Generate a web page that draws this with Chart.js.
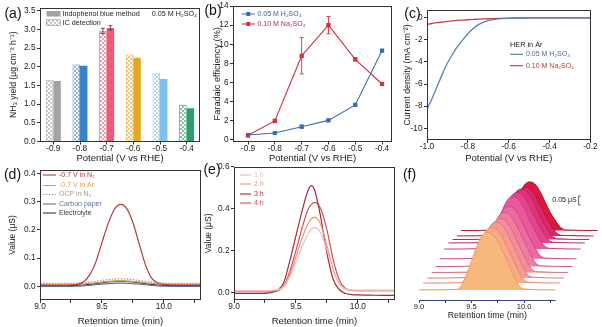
<!DOCTYPE html>
<html><head><meta charset="utf-8">
<script src="https://cdn.jsdelivr.net/npm/chart.js@4.4.1/dist/chart.umd.min.js"></script>
<style>
html,body{margin:0;padding:0;background:#fff;}
#wrap{position:relative;width:602px;height:327px;overflow:hidden;background:#fff;}
#wrap canvas{position:absolute;left:0;top:0;}
</style></head><body>
<div id="wrap">
<canvas id="ca" width="602" height="327"></canvas>
<canvas id="cb" width="602" height="327"></canvas>
<canvas id="cc" width="602" height="327"></canvas>
<canvas id="cd" width="602" height="327"></canvas>
<canvas id="ce" width="602" height="327"></canvas>
<canvas id="cf" width="602" height="327"></canvas>
</div>
<script>
// ---------------- DATA ----------------
// (a) NH3 yield
const potentialsA = ['-0.9','-0.8','-0.7','-0.6','-0.5','-0.4'];
const yieldIndophenol = [1.62, 2.03, 3.04, 2.24, 1.67, 0.89];
const yieldIC = [1.65, 2.06, 2.96, 2.33, 1.84, 0.98];
const errIndophenol = [0, 0, 0.06, 0, 0, 0];
const errIC = [0, 0, 0.07, 0, 0, 0];
const ticksAy = [0, 0.5, 1, 1.5, 2, 2.5, 3, 3.5];

// (b) Faradaic efficiency
const potentialsB = [-0.9, -0.8, -0.7, -0.6, -0.5, -0.4];
const feH2SO4 = [0.52, 0.73, 1.39, 2.05, 3.66, 9.34];
const feNa2SO4 = [0.49, 1.99, 8.8, 12.0, 8.43, 5.85];
const errFeH2SO4 = [0.05, 0.05, 0.15, 0.1, 0.1, 0.1];
const errFeNa2SO4 = [0.1, 0.1, 1.9, 0.9, 0.15, 0.15];
const ticksBx = [-0.9, -0.8, -0.7, -0.6, -0.5, -0.4];
const ticksBy = [0, 2, 4, 6, 8, 10, 12, 14];

// (c) HER polarization
const potentialC = [-1.0,-0.975,-0.95,-0.925,-0.9,-0.875,-0.85,-0.825,-0.8,-0.775,-0.75,-0.725,-0.7,-0.675,-0.65,-0.6,-0.5,-0.4,-0.3,-0.2];
const jH2SO4 = [-8.3,-7.3,-6.2,-5.1,-4.1,-3.3,-2.6,-2.0,-1.45,-1.0,-0.65,-0.42,-0.27,-0.17,-0.1,-0.05,-0.02,-0.01,0,0];
const jNa2SO4 = [-0.6,-0.52,-0.45,-0.39,-0.33,-0.28,-0.24,-0.21,-0.18,-0.15,-0.13,-0.11,-0.09,-0.075,-0.06,-0.04,-0.02,-0.01,0,0];
const ticksCx = [-1.0, -0.8, -0.6, -0.4, -0.2];
const ticksCy = [0, -2, -4, -6, -8, -10];

// (d) IC chromatograms
const timeD = [9.0,9.1,9.2,9.25,9.3,9.35,9.4,9.45,9.5,9.55,9.6,9.65,9.7,9.75,9.8,9.85,9.9,9.95,10.0,10.1,10.2,10.3];
const dN2 = [0.004,0.004,0.004,0.005,0.007,0.016,0.04,0.085,0.155,0.222,0.272,0.29,0.276,0.226,0.152,0.078,0.03,0.012,0.007,0.005,0.005,0.005];
const dAr = [0.007,0.007,0.007,0.007,0.008,0.009,0.011,0.013,0.016,0.018,0.019,0.02,0.019,0.018,0.016,0.013,0.011,0.009,0.008,0.008,0.008,0.008];
const dOCP = [0.011,0.011,0.011,0.011,0.012,0.013,0.015,0.018,0.021,0.024,0.026,0.027,0.026,0.024,0.021,0.018,0.015,0.013,0.012,0.011,0.011,0.011];
const dCarbon = [0.0,0.0,0.0,0.0,0.001,0.002,0.004,0.006,0.008,0.01,0.011,0.012,0.011,0.01,0.008,0.006,0.004,0.002,0.001,0.0,0.0,0.0];
const dElectrolyte = [0.003,0.003,0.003,0.003,0.004,0.005,0.007,0.01,0.013,0.016,0.018,0.019,0.018,0.016,0.013,0.01,0.007,0.005,0.004,0.003,0.003,0.003];
const ticksDx = [9.0, 9.25, 9.5, 9.75, 10.0, 10.25];
const ticksDy = [0, 0.1, 0.2, 0.3, 0.4];

// (e) chromatograms vs time
const timeE = [9.0,9.1,9.2,9.25,9.3,9.35,9.4,9.45,9.5,9.55,9.6,9.625,9.65,9.7,9.75,9.8,9.85,9.9,9.95,10.0,10.1,10.2,10.3];
const e1h = [0.01,0.01,0.01,0.01,0.011,0.014,0.028,0.075,0.145,0.22,0.283,0.302,0.31,0.285,0.205,0.105,0.042,0.018,0.013,0.012,0.012,0.012,0.012];
const e2h = [0.008,0.008,0.008,0.008,0.009,0.012,0.03,0.085,0.17,0.26,0.33,0.352,0.36,0.325,0.225,0.112,0.042,0.016,0.011,0.01,0.01,0.01,0.01];
const e3h = [-0.004,-0.004,-0.004,-0.003,0.0,0.012,0.045,0.15,0.27,0.39,0.49,0.51,0.49,0.36,0.19,0.065,0.015,-0.004,-0.009,-0.011,-0.012,-0.013,-0.013];
const e4h = [0.003,0.003,0.003,0.003,0.004,0.008,0.03,0.1,0.2,0.31,0.4,0.42,0.43,0.4,0.3,0.16,0.06,0.02,0.011,0.009,0.009,0.009,0.009];
const ticksEy = [0, 0.2, 0.4, 0.6];

// (f) stacked chromatograms (front to back)
const timeF = [9.0,9.35,9.4,9.45,9.5,9.55,9.6,9.65,9.7,9.75,9.8,9.85,9.9,9.95,10.0,10.3];
const fTrace1  = [0,0.002,0.02,0.08,0.16,0.24,0.30,0.32,0.31,0.27,0.21,0.15,0.08,0.025,0.005,0];
const fTrace2  = [0,0.002,0.02,0.08,0.155,0.235,0.29,0.31,0.30,0.26,0.20,0.14,0.075,0.025,0.005,0];
const fTrace3  = [0,0.002,0.018,0.075,0.15,0.23,0.29,0.31,0.30,0.26,0.20,0.14,0.075,0.022,0.005,0];
const fTrace4  = [0,0.002,0.018,0.075,0.15,0.225,0.28,0.30,0.29,0.25,0.19,0.13,0.07,0.02,0.004,0];
const fTrace5  = [0,0.002,0.017,0.07,0.145,0.22,0.28,0.30,0.29,0.25,0.19,0.13,0.07,0.02,0.004,0];
const fTrace6  = [0,0.002,0.017,0.07,0.14,0.215,0.27,0.29,0.28,0.24,0.18,0.12,0.065,0.02,0.004,0];
const fTrace7  = [0,0.002,0.016,0.068,0.14,0.21,0.27,0.29,0.28,0.24,0.18,0.12,0.065,0.02,0.004,0];
const fTrace8  = [0,0.002,0.016,0.065,0.135,0.205,0.26,0.28,0.27,0.23,0.17,0.115,0.06,0.018,0.004,0];
const fTrace9  = [0,0.002,0.015,0.065,0.13,0.20,0.26,0.28,0.27,0.23,0.17,0.11,0.06,0.018,0.004,0];
const fTrace10 = [0,0.002,0.015,0.06,0.125,0.195,0.25,0.27,0.26,0.22,0.165,0.105,0.055,0.016,0.003,0];
const fTrace11 = [0,0.002,0.015,0.06,0.125,0.19,0.25,0.27,0.26,0.22,0.16,0.10,0.055,0.016,0.003,0];
const fTraces = [fTrace1,fTrace2,fTrace3,fTrace4,fTrace5,fTrace6,fTrace7,fTrace8,fTrace9,fTrace10,fTrace11];
const ticksFx = [9.0, 9.25, 9.5, 9.75, 10.0, 10.25];

// ---------------- STYLE / POSITION ----------------
const colorsA = ['#a3a3a3','#3d82c4','#ec5a76','#e6a722','#7ec3ea','#2e9e6e'];
const fShiftX = [0,0.04,0.08,0.12,0.16,0.2,0.24,0.28,0.32,0.36,0.4];          // waterfall offsets (min)
const fShiftY = [0.056,0.094,0.122,0.153,0.186,0.229,0.283,0.317,0.336,0.356,0.386]; // waterfall offsets (uS)
const fFill = ['#f7b87c','#f8a98a','#f69a92','#f48c9c','#f07ca0','#ec6aa0','#e8589a','#e4448c','#e0347a','#dc2860','#d81a40'];
const fLine = ['#e89a5a','#e88a70','#e07a7a','#d86a80','#d45a84','#cc4a84','#c83c80','#c02e72','#b82060','#b81848','#b81030'];

const FONT = "'Liberation Sans', Arial, Helvetica, sans-serif";
Chart.defaults.font.family = FONT;
Chart.defaults.color = '#1a1a1a';
Chart.defaults.animation = false;
const W = 602, H = 327;
const TICK = 8.3;

function layout(L,T,R,B,yw,xh){ return {autoPadding:false, padding:{left:L-yw, top:T, right:W-R, bottom:H-B-xh}}; }
function fixedTicks(vals){ return s => { s.ticks = vals.map(v => ({value:v})); }; }
function yAxis(o){
  return { type:'linear', position:'left', min:o.min, max:o.max,
    afterFit: s => { s.width = o.yw; }, afterBuildTicks: fixedTicks(o.ticks),
    ticks:{ font:{size:TICK, lineHeight:1}, padding:1.5, callback:o.fmt },
    grid:{ drawOnChartArea:false, drawTicks:true, tickLength:3, color:'#333' },
    border:{ display:false },
    title:{ display:true, text:o.title, font:{size:o.tsize||9}, padding:0 } };
}
function xLin(o){
  return { type:'linear', position:'bottom', min:o.min, max:o.max,
    afterFit: s => { s.height = o.xh; }, afterBuildTicks: fixedTicks(o.ticks),
    ticks:{ font:{size:o.fsize||TICK, lineHeight:1}, padding:0, maxRotation:0, autoSkip:false, callback:o.fmt },
    grid:{ drawOnChartArea:false, drawTicks:true, tickLength:3, color:o.gcolor||'#333' },
    border:{ display:false },
    title:{ display: !!o.title, text:o.title||'', font:{size:9.5}, padding:0 } };
}
const halfFmt = v => (Math.abs(v*2 - Math.round(v*2)) < 1e-6) ? v.toFixed(1) : '';

function txt(ctx, s, x, y, size, color, align){
  ctx.font = size + 'px ' + FONT; ctx.fillStyle = color || '#1a1a1a';
  ctx.textAlign = align || 'left'; ctx.textBaseline = 'middle'; ctx.fillText(s, x, y);
}
function panelLabel(ctx, s, x, y){ txt(ctx, s, x, y, 14, '#111', 'center'); }
function seg(ctx, x0, x1, y, color, dash, w){
  ctx.beginPath(); ctx.setLineDash(dash || []); ctx.strokeStyle = color; ctx.lineWidth = w || 1.2;
  ctx.moveTo(x0, y); ctx.lineTo(x1, y); ctx.stroke(); ctx.setLineDash([]);
}
function hatchPattern(ctx, color){
  const t = document.createElement('canvas'); t.width = 4; t.height = 4;
  const g = t.getContext('2d'); g.fillStyle = '#ffffff'; g.fillRect(0,0,4,4);
  g.globalAlpha = 0.6; g.fillStyle = color; g.fillRect(0,0,2,2); g.fillRect(2,2,2,2);
  return ctx.createPattern(t, 'repeat');
}
const deco = fn => ({ id:'deco', afterDraw(chart){ const c = chart.ctx; c.save(); fn(c, chart); c.restore(); } });
const frame = { id:'frame', afterDatasetsDraw(chart){
  const {ctx, chartArea:a} = chart; ctx.save(); ctx.strokeStyle = '#333'; ctx.lineWidth = 1;
  ctx.strokeRect(Math.round(a.left)+0.5, Math.round(a.top)+0.5, Math.round(a.right-a.left)-1, Math.round(a.bottom-a.top)-1);
  ctx.restore(); } };
const errbars = { id:'errbars', afterDatasetsDraw(chart){
  const ctx = chart.ctx;
  chart.data.datasets.forEach((ds, i) => {
    if (!ds.errors) return;
    const meta = chart.getDatasetMeta(i); const ys = chart.scales[meta.yAxisID];
    ctx.save(); ctx.lineWidth = 0.9;
    meta.data.forEach((el, j) => {
      const e = ds.errors[j]; if (!e) return;
      const d = ds.data[j]; const v = (typeof d === 'number') ? d : d.y;
      const x = el.x, y0 = ys.getPixelForValue(v - e), y1 = ys.getPixelForValue(v + e);
      ctx.strokeStyle = ds.errColor || ds.borderColor;
      ctx.beginPath(); ctx.moveTo(x, y0); ctx.lineTo(x, y1);
      ctx.moveTo(x-2, y0); ctx.lineTo(x+2, y0); ctx.moveTo(x-2, y1); ctx.lineTo(x+2, y1); ctx.stroke();
    });
    ctx.restore();
  }); } };
const pts = (xs, ys) => xs.map((x, i) => ({x, y: ys[i]}));
const noPlug = { legend:{display:false}, tooltip:{enabled:false} };

// ---------------- (a) ----------------
const ctxA = document.getElementById('ca').getContext('2d');
new Chart(ctxA, {
  type:'bar',
  data:{ labels:potentialsA, datasets:[
    { label:'IC detection', data:yieldIC, backgroundColor:colorsA.map(c => hatchPattern(ctxA, c)), borderColor:colorsA, borderWidth:0.8,
      errors:errIC, errColor:'#444', categoryPercentage:0.56, barPercentage:1 },
    { label:'Indophenol blue method', data:yieldIndophenol, backgroundColor:colorsA, borderColor:colorsA, borderWidth:0,
      errors:errIndophenol, errColor:'#444', categoryPercentage:0.56, barPercentage:1 } ]},
  options:{ responsive:false, animation:false, layout:layout(40,8,200,141.5,31.7,22.7), plugins:noPlug,
    scales:{
      x:{ type:'category', offset:true, afterFit: s => { s.height = 22.7; },
          grid:{ offset:false, drawOnChartArea:false, tickLength:3, color:'#333' }, border:{display:false},
          ticks:{ font:{size:TICK, lineHeight:1}, padding:0, maxRotation:0, autoSkip:false },
          title:{ display:true, text:'Potential (V vs RHE)', font:{size:9.5}, padding:0 } },
      y: yAxis({min:0, max:3.572, ticks:ticksAy, yw:31.7, title:'NH₃ yield (μg cm⁻² h⁻¹)', fmt:v => v.toFixed(1), tsize:8.6})
    } },
  plugins:[frame, errbars, deco((ctx) => {
    panelLabel(ctx, '(a)', 13, 14);
    ctx.fillStyle = '#a3a3a3'; ctx.fillRect(46.5, 11, 14, 5.5);
    ctx.fillStyle = hatchPattern(ctx, '#a3a3a3'); ctx.fillRect(46.5, 19.8, 14, 5.5);
    ctx.strokeStyle = '#a3a3a3'; ctx.lineWidth = 0.8; ctx.strokeRect(46.5, 19.8, 14, 5.5);
    txt(ctx, 'Indophenol blue method', 62.5, 14, 7.2);
    txt(ctx, 'IC detection', 62.5, 22.6, 7.2);
    txt(ctx, '0.05 M H₂SO₄', 197, 14.5, 7.2, '#1a1a1a', 'right');
  })]
});

// ---------------- (b) ----------------
const blueB = '#3d6cb0', redB = '#d22f3f';
new Chart(document.getElementById('cb'), {
  type:'line',
  data:{ datasets:[
    { label:'0.05 M H₂SO₄', data:pts(potentialsB, feH2SO4), borderColor:blueB, backgroundColor:blueB, borderWidth:1.1,
      pointStyle:'rect', pointRadius:2.2, errors:errFeH2SO4 },
    { label:'0.10 M Na₂SO₄', data:pts(potentialsB, feNa2SO4), borderColor:redB, backgroundColor:redB, borderWidth:1.1,
      pointStyle:'rect', pointRadius:2.2, errors:errFeNa2SO4 } ]},
  options:{ responsive:false, animation:false, layout:layout(233,6,392,141.5,21.2,22.7), plugins:noPlug,
    scales:{
      x: xLin({min:-0.956, max:-0.363, ticks:ticksBx, xh:22.7, title:'Potential (V vs RHE)', fmt:v => v.toFixed(1)}),
      y: yAxis({min:-0.157, max:14, ticks:ticksBy, yw:21.2, title:'Faradaic efficiency (%)', fmt:v => String(v), tsize:9.2})
    } },
  plugins:[frame, errbars, deco((ctx) => {
    panelLabel(ctx, '(b)', 213, 11.5);
    seg(ctx, 241.5, 255, 14, blueB, null, 1); ctx.fillStyle = blueB; ctx.fillRect(246.3, 12, 4, 4);
    seg(ctx, 241.5, 255, 24, redB, null, 1); ctx.fillStyle = redB; ctx.fillRect(246.3, 22, 4, 4);
    txt(ctx, '0.05 M H₂SO₄', 257.5, 14, 7, '#3d5f9a');
    txt(ctx, '0.10 M Na₂SO₄', 257.5, 24, 7, '#b03040');
  })]
});

// ---------------- (c) ----------------
const blueC = '#5b7fb8', redC = '#c4404a';
new Chart(document.getElementById('cc'), {
  type:'line',
  data:{ datasets:[
    { label:'0.05 M H₂SO₄', data:pts(potentialC, jH2SO4), borderColor:blueC, borderWidth:1.3, pointRadius:0, cubicInterpolationMode:'monotone' },
    { label:'0.10 M Na₂SO₄', data:pts(potentialC, jNa2SO4), borderColor:redC, borderWidth:1.3, pointRadius:0, cubicInterpolationMode:'monotone' } ]},
  options:{ responsive:false, animation:false, layout:layout(427,10,590.5,140,24.7,24.2), plugins:noPlug,
    scales:{
      x: xLin({min:-1.0, max:-0.2, ticks:ticksCx, xh:24.2, title:'Potential (V vs RHE)', fmt:v => v.toFixed(1)}),
      y: yAxis({min:-11.06, max:0.70, ticks:ticksCy, yw:24.7, title:'Current density (mA cm⁻²)', fmt:v => String(v), tsize:8.8})
    } },
  plugins:[frame, deco((ctx) => {
    panelLabel(ctx, '(c)', 412.5, 14);
    txt(ctx, 'HER in Ar', 510, 45, 7.3);
    seg(ctx, 510, 523, 54.3, blueC, null, 1.2);
    txt(ctx, '0.05 M H₂SO₄', 526, 54.3, 7, '#4a6a9e');
    seg(ctx, 510, 523, 65.7, redC, null, 1.2);
    txt(ctx, '0.10 M Na₂SO₄', 526, 65.7, 7, '#b83a44');
  })]
});

// ---------------- (d) ----------------
const dSeries = [
  { label:'-0.7 V in N₂', data:dN2, color:'#b03a3a' },
  { label:'-0.7 V in Ar', data:dAr, color:'#e3a040' },
  { label:'OCP in N₂', data:dOCP, color:'#a89a8c', dash:[1.5,1.5] },
  { label:'Carbon paper', data:dCarbon, color:'#5b6fae' },
  { label:'Electrolyte', data:dElectrolyte, color:'#3a3a3a' } ];
new Chart(document.getElementById('cd'), {
  type:'line',
  data:{ datasets: dSeries.map(s => ({ label:s.label, data:pts(timeD, s.data), borderColor:s.color, borderWidth:1.2,
    borderDash:s.dash || [], pointRadius:0, cubicInterpolationMode:'monotone' })) },
  options:{ responsive:false, animation:false, layout:layout(40,170,201,300,32.6,26.7), plugins:noPlug,
    scales:{
      x: xLin({min:9.0, max:10.3, ticks:ticksDx, xh:26.7, title:'Retention time (min)', fmt:halfFmt}),
      y: yAxis({min:-0.048, max:0.4117, ticks:ticksDy, yw:32.6, title:'Value (μS)', fmt:v => v.toFixed(1), tsize:8.5})
    } },
  plugins:[frame, deco((ctx) => {
    panelLabel(ctx, '(d)', 12.5, 175);
    const rows = [175, 185.5, 194.5, 204, 213];
    dSeries.forEach((s, i) => { seg(ctx, 43, 56, rows[i], s.color, s.dash, 1.1); txt(ctx, s.label, 59, rows[i], 7, s.color); });
  })]
});

// ---------------- (e) ----------------
const eSeries = [
  { label:'1 h', data:e1h, color:'#f0bcb8' },
  { label:'2 h', data:e2h, color:'#e89684' },
  { label:'3 h', data:e3h, color:'#a52a3a' },
  { label:'4 h', data:e4h, color:'#d4504e' } ];
new Chart(document.getElementById('ce'), {
  type:'line',
  data:{ datasets: eSeries.map(s => ({ label:s.label, data:pts(timeE, s.data), borderColor:s.color, borderWidth:1.2,
    pointRadius:0, cubicInterpolationMode:'monotone' })) },
  options:{ responsive:false, animation:false, layout:layout(234,166.7,395,300,30.1,26.7), plugins:noPlug,
    scales:{
      x: xLin({min:9.0, max:10.3, ticks:ticksDx, xh:26.7, title:'Retention time (min)', fmt:halfFmt}),
      y: yAxis({min:-0.035, max:0.6, ticks:ticksEy, yw:30.1, title:'Value (μS)', fmt:v => v.toFixed(1), tsize:8.5})
    } },
  plugins:[frame, deco((ctx) => {
    panelLabel(ctx, '(e)', 212, 170);
    const rows = [175, 184, 194, 203];
    eSeries.forEach((s, i) => { seg(ctx, 240, 251, rows[i], s.color, null, 1.1); txt(ctx, s.label, 254, rows[i], 7, s.color); });
  })]
});

// ---------------- (f) ----------------
new Chart(document.getElementById('cf'), {
  type:'line',
  data:{ datasets: fTraces.map((tr, i) => ({
    label:'trace ' + (i+1),
    data: tr.map((v, j) => ({ x: timeF[j] + fShiftX[i], y: v + fShiftY[i] })),
    fill:{ value: fShiftY[i] }, backgroundColor:fFill[i], borderColor:fLine[i], borderWidth:1,
    pointRadius:0, cubicInterpolationMode:'monotone', clip:false })) },
  options:{ responsive:false, animation:false, layout:layout(419,170,601,300,0,27), plugins:noPlug,
    scales:{
      x: xLin({min:9.0, max:10.733, ticks:ticksFx, xh:27, fmt:halfFmt, fsize:7.5, gcolor:'#34457a'}),
      y: { type:'linear', display:false, min:0, max:0.722 }
    } },
  plugins:[deco((ctx, ch) => {
    panelLabel(ctx, '(f)', 409.5, 175.5);
    const xs = ch.scales.x, ys = ch.scales.y, b = Math.round(ch.chartArea.bottom) + 0.5;
    ctx.strokeStyle = '#34457a'; ctx.lineWidth = 1;
    ctx.beginPath(); ctx.moveTo(xs.getPixelForValue(9.0), b); ctx.lineTo(xs.getPixelForValue(10.3), b); ctx.stroke();
    txt(ctx, 'Retention time (min)', (xs.getPixelForValue(9.0) + xs.getPixelForValue(10.3)) / 2, 315.5, 8.8, '#1a1a1a', 'center');
    // 0.05 uS scale bar
    const bx = xs.getPixelForValue(10.52), y0 = ys.getPixelForValue(0.528), y1 = ys.getPixelForValue(0.578);
    ctx.strokeStyle = '#333'; ctx.lineWidth = 0.8;
    ctx.beginPath(); ctx.moveTo(bx + 2, y0); ctx.lineTo(bx, y0); ctx.lineTo(bx, y1); ctx.lineTo(bx + 2, y1); ctx.stroke();
    txt(ctx, '0.05 μS', bx - 2, (y0 + y1) / 2, 7, '#1a1a1a', 'right');
  })]
});
</script>
</body></html>
